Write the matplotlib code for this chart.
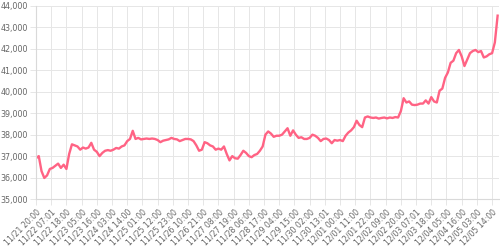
import matplotlib
matplotlib.use("Agg")
import matplotlib.pyplot as plt
from matplotlib.ticker import FuncFormatter, FixedLocator

# hours since 11/21 20:00
hours = list(range(0, 336, 2))
prices = [
    36900, 37000, 36300, 35980, 36100, 36400, 36450, 36550, 36650, 36450,
    36600, 36400, 37100, 37550, 37500, 37450, 37300, 37400, 37350, 37400,
    37620, 37300, 37200, 37000, 37150, 37250, 37280, 37250, 37300, 37380,
    37350, 37450, 37500, 37700, 37800, 38180, 37800, 37850, 37780, 37800,
    37820, 37800, 37820, 37800, 37750, 37650, 37720, 37750, 37780, 37850,
    37800, 37780, 37700, 37750, 37800, 37800, 37780, 37700, 37500, 37250,
    37300, 37650, 37600, 37500, 37450, 37300, 37350, 37300, 37450, 37100,
    36800, 37000, 36900, 36880, 37050, 37250, 37150, 37000, 36950, 37050,
    37100, 37250, 37450, 38000, 38150, 38050, 37900, 37950, 37950, 38000,
    38150, 38300, 37950, 38200, 38000, 37850, 37880, 37800, 37800, 37850,
    38000, 37950, 37850, 37700, 37800, 37820, 37750, 37600, 37750, 37720,
    37750, 37700, 37950, 38100, 38200, 38350, 38650, 38450, 38350, 38800,
    38850, 38800, 38780, 38800, 38750, 38780, 38800, 38760, 38800, 38780,
    38820, 38800, 39100, 39700, 39500, 39550, 39400, 39380, 39400, 39450,
    39450, 39600, 39450, 39750, 39550, 39500, 40050, 40150, 40650, 40900,
    41350, 41450, 41800, 41950, 41650, 41200, 41500, 41800, 41900, 41950,
    41850, 41900, 41600, 41650, 41750, 41800, 42300, 43550,
]
tick_hours = list(range(0, 331, 11))
tick_labels = [
    "11/21 20:00", "11/22 07:01", "11/22 18:00", "11/23 05:00", "11/23 16:00",
    "11/24 03:00", "11/24 14:00", "11/25 01:00", "11/25 12:00", "11/25 23:00",
    "11/26 10:00", "11/26 21:00", "11/27 08:00", "11/27 19:00", "11/28 06:00",
    "11/28 17:00", "11/29 04:00", "11/29 15:00", "11/30 02:00", "11/30 13:01",
    "12/01 00:00", "12/01 11:00", "12/01 22:00", "12/02 09:00", "12/02 20:00",
    "12/03 07:01", "12/03 18:00", "12/04 05:00", "12/04 16:00", "12/05 03:00",
    "12/05 14:00",
]
y_ticks = [35000, 36000, 37000, 38000, 39000, 40000, 41000, 42000, 43000, 44000]

plt.rcParams['font.family'] = ['DejaVu Sans']
fig = plt.figure(figsize=(5, 2.5), dpi=100)
ax = fig.add_axes([0.072, 0.204, 0.926, 0.772])

ax.plot(hours, prices, color=(1.0, 0.388, 0.518), linewidth=1.7, solid_joinstyle='round')

ax.set_xlim(0, 335)
ax.set_ylim(35000, 44000)
ax.xaxis.set_major_locator(FixedLocator(tick_hours))
ax.set_xticklabels(tick_labels, rotation=45, ha='right', rotation_mode='anchor',
                   fontsize=5.6, color='#666666')
ax.set_yticks(y_ticks)
ax.yaxis.set_major_formatter(FuncFormatter(lambda v, p: f"{int(v):,}"))
for lbl in ax.get_yticklabels():
    lbl.set_fontsize(5.8)
    lbl.set_color('#666666')

ax.grid(True, color='#e6e6e6', linewidth=0.7)
ax.set_axisbelow(True)
ax.tick_params(axis='both', length=4, width=0.7, color='#e6e6e6', pad=2)
for s in ['top', 'right']:
    ax.spines[s].set_visible(False)
for s in ['left', 'bottom']:
    ax.spines[s].set_color('#d9d9d9')
    ax.spines[s].set_linewidth(0.8)

fig.savefig('out.png', dpi=100)
